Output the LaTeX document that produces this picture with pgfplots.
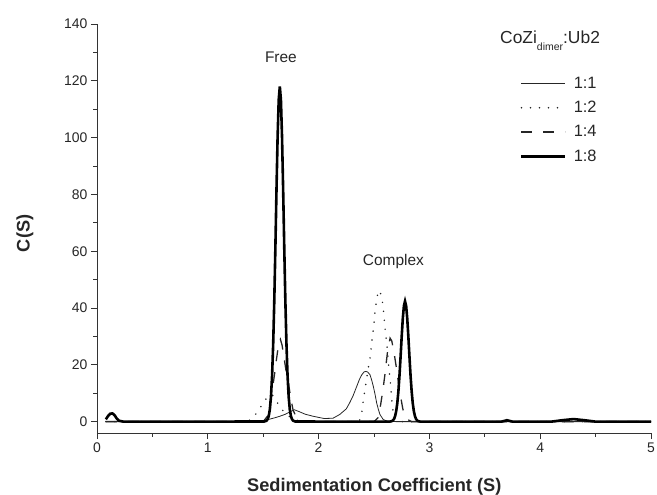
\documentclass[border=0pt]{standalone}
\usepackage{pgfplots}
\pgfplotsset{compat=1.18}
\usepackage{fontspec}
\setmainfont{Liberation Sans}
\begin{document}
\begin{tikzpicture}
\path[use as bounding box] (-97bp,-62bp) rectangle (560bp,433bp);
\begin{axis}[
  at={(0,0)}, anchor=south west,
  scale only axis, width=554bp, height=409bp,
  xmin=0, xmax=5, ymin=-4, ymax=140,
  clip=false,
  axis lines=left,
  axis line style={-, line width=0.9bp, black!80},
  xtick={0,1,2,3,4,5}, ytick={0,20,40,60,80,100,120,140},
  minor x tick num=1, minor y tick num=1,
  tick align=outside,
  major tick length=6bp, minor tick length=3.5bp,
  every tick/.style={line width=0.9bp, black!80},
  tick label style={font=\fontsize{14}{16}\selectfont, black!85},
  /pgf/number format/assume math mode=true,
  xlabel={Sedimentation Coefficient (S)},
  ylabel={C(S)},
  label style={font=\fontsize{18.3}{21}\selectfont\bfseries, black!85},
  xlabel style={at={(axis description cs:0.5004,-0.1435)}, anchor=base},
  ylabel style={at={(axis description cs:-0.1218,0.488)}, anchor=base},
  legend style={draw=none, fill=none, at={(axis description cs:0.7635,0.876)},
    anchor=north west, inner sep=0pt, row sep=7.5bp, column sep=5bp,
    font=\fontsize{16.5}{18}\selectfont, text=black!85},
  legend cell align=left,
  legend image code/.code={\draw[#1] (0bp,0bp) -- (44bp,0bp);},
]
% 1:1 thin solid
\addplot[black!85, line width=0.8bp] coordinates {
(0.08,0) (1.45,0) (1.50,0.3) (1.55,0.8) (1.60,1.3) (1.65,1.9) (1.70,2.6)
(1.75,3.6) (1.78,4.2) (1.82,3.6) (1.88,2.6) (1.95,1.9) (2.05,1.1) (2.13,1.2)
(2.19,2.5) (2.25,4.5) (2.28,6.6) (2.31,9.0) (2.344,12.4) (2.37,15.0) (2.39,16.5)
(2.41,17.5) (2.428,17.7) (2.445,17.4) (2.464,16.5) (2.48,14.5) (2.494,12.4)
(2.51,9.5) (2.524,6.6) (2.54,4.2) (2.554,2.5) (2.584,0.7) (2.62,0.2) (2.70,0) (5.0,0)
};
\addlegendentry{1:1}
% 1:2 dotted
\addplot[black!85, line width=1.7bp, line cap=round, dash pattern=on 0bp off 9bp] coordinates {
(0.08,0) (1.35,0) (1.40,1.0) (1.45,3.5) (1.50,6.5) (1.54,8.8) (1.58,9.5) (1.61,8.0)
(1.64,5.8) (1.68,3.8) (1.72,2.2) (1.76,1.1) (1.82,0.3) (1.90,0) (2.35,0) (2.37,0.5)
(2.389,3.1) (2.404,7.7) (2.419,11.3) (2.434,15.4) (2.449,18.9) (2.464,22.4)
(2.476,26.5) (2.488,30.6) (2.500,34.7) (2.509,38.8) (2.524,42.9) (2.539,46.2)
(2.554,45.6) (2.569,44.1) (2.584,40.0) (2.593,35.9) (2.602,31.8) (2.615,27.7)
(2.624,23.6) (2.633,19.5) (2.644,15.4) (2.653,11.3) (2.662,7.1) (2.674,3.1)
(2.69,0.6) (2.72,0) (5.0,0)
};
\addlegendentry{1:2}
% 1:4 dashed
\addplot[black!85, line width=1.3bp, dash pattern=on 11bp off 11bp] coordinates {
(0.08,0) (1.50,0) (1.54,2.0) (1.57,8.0) (1.60,16.0) (1.62,22.0) (1.64,27.5)
(1.655,29.0) (1.67,27.0) (1.69,22.0) (1.71,17.0) (1.73,13.0) (1.75,8.0) (1.77,4.0)
(1.80,1.5) (1.85,0.3) (1.90,0) (2.50,0) (2.54,1.5) (2.56,6.0) (2.58,11.0)
(2.60,17.0) (2.62,24.0) (2.645,29.4) (2.66,28.5) (2.68,24.5) (2.70,19.5)
(2.72,14.0) (2.735,10.0) (2.76,4.5) (2.78,2.0) (2.80,0.8) (2.84,0) (5.0,0)
};
\addlegendentry{1:4}
% 1:8 thick solid
\addplot[black, line width=2.6bp] coordinates {
(0.08,0.8) (0.10,2.0) (0.12,2.8) (0.14,2.9) (0.16,2.2) (0.18,1.0) (0.20,0.3) (0.24,0)
(1.51,0.04) (1.53,0.33) (1.54,0.85) (1.55,2.0) (1.56,4.3) (1.57,8.7) (1.58,16.0)
(1.59,27.2) (1.60,42.5) (1.61,61.4) (1.62,81.7) (1.63,100.2) (1.64,113.3) (1.65,118.0)
(1.66,113.3) (1.67,100.2) (1.68,81.7) (1.69,61.4) (1.70,42.5) (1.71,27.2) (1.72,16.0)
(1.73,8.7) (1.74,4.3) (1.75,2.0) (1.76,0.85) (1.77,0.33) (1.79,0.04) (2.64,0)
(2.66,0.16) (2.67,0.4) (2.68,0.9) (2.69,1.9) (2.70,3.6) (2.71,6.4) (2.72,10.6)
(2.73,16.2) (2.74,22.9) (2.75,30.0) (2.76,36.3) (2.77,40.8) (2.78,42.4) (2.79,40.8)
(2.80,36.3) (2.81,30.0) (2.82,22.9) (2.83,16.2) (2.84,10.6) (2.85,6.4) (2.86,3.6)
(2.87,1.9) (2.88,0.9) (2.89,0.4) (2.90,0.16) (2.92,0)
(3.65,0) (3.70,0.5) (3.75,0) (4.10,0) (4.20,0.5) (4.30,0.9) (4.40,0.5) (4.50,0) (5.0,0)
};
\addlegendentry{1:8}
\node[anchor=base, font=\fontsize{15.5}{18}\selectfont, text=black!85] at (axis cs:1.66,126.3) {Free};
\node[anchor=base, font=\fontsize{15.5}{18}\selectfont, text=black!85] at (axis cs:2.675,54.9) {Complex};
\node[anchor=base west, inner sep=0pt, font=\fontsize{17.5}{20}\selectfont, text=black!85] at (axis cs:3.637,133.0)
  {CoZi\raisebox{-6.5bp}{\fontsize{10.5}{12}\selectfont dimer}:Ub2};
\end{axis}
\end{tikzpicture}
\end{document}
